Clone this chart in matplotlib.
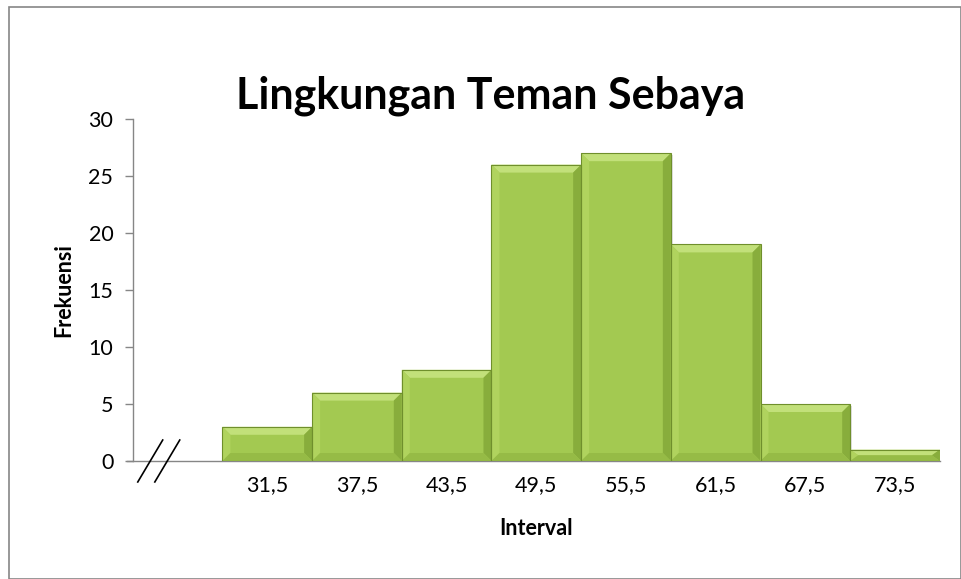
import numpy as np
import matplotlib
matplotlib.use("Agg")
import matplotlib.pyplot as plt
from matplotlib.patches import Rectangle, Polygon
from matplotlib.lines import Line2D

# --- data ---
intervals = ["31,5", "37,5", "43,5", "49,5", "55,5", "61,5", "67,5", "73,5"]
frekuensi = [3, 6, 8, 26, 27, 19, 5, 1]
y_ticks = [0, 5, 10, 15, 20, 25, 30]

plt.rcParams['font.family'] = ['Lato', 'DejaVu Sans']

fig = plt.figure(figsize=(9.62, 5.79), dpi=100)
ax = fig.add_axes([0.138, 0.2038, 0.839, 0.5907])

# one empty slot before the first bar (axis break goes there)
xpos = np.arange(1, len(intervals) + 1)
ax.set_xlim(-0.5, len(intervals) + 0.5)
ax.set_ylim(0, 30)

base = '#a3c951'
light = '#c2e07a'
dark = '#6f8f2c'
mid_dark = '#88ad3c'

# bevel size in data units (about 8 px)
bx = 8 / (0.839 * 962 / 9.0)
by_full = 8 / (0.5907 * 579 / 30.0)

for x, h in zip(xpos, frekuensi):
    l, r = x - 0.5, x + 0.5
    by = min(by_full, h / 2.0)
    # soft shadow
    ax.add_patch(Rectangle((l + 0.02, -0.15), 1.0, h, facecolor='#000000',
                           alpha=0.12, lw=0, zorder=1))
    ax.add_patch(Rectangle((l, 0), 1.0, h, facecolor=base, lw=0, zorder=2))
    # top bevel (light)
    ax.add_patch(Polygon([(l, h), (r, h), (r - bx, h - by), (l + bx, h - by)],
                         closed=True, facecolor=light, lw=0, zorder=3))
    # left bevel
    ax.add_patch(Polygon([(l, h), (l + bx, h - by), (l + bx, by), (l, 0)],
                         closed=True, facecolor='#b0d35e', lw=0, zorder=3))
    # right bevel (dark)
    ax.add_patch(Polygon([(r, h), (r - bx, h - by), (r - bx, by), (r, 0)],
                         closed=True, facecolor=mid_dark, lw=0, zorder=3))
    # bottom bevel
    ax.add_patch(Polygon([(l, 0), (l + bx, by), (r - bx, by), (r, 0)],
                         closed=True, facecolor='#96bb46', lw=0, zorder=3))
    ax.add_patch(Rectangle((l, 0), 1.0, h, facecolor='none', edgecolor=dark,
                           lw=0.8, zorder=4))

ax.set_xticks(xpos)
ax.set_xticklabels(intervals, fontsize=15.5)
ax.tick_params(axis='x', length=0, pad=10)
ax.set_yticks(y_ticks)
ax.tick_params(axis='y', labelsize=15.5, length=6, color='#868686', width=1, pad=8)

for side in ['top', 'right']:
    ax.spines[side].set_visible(False)
for side in ['left', 'bottom']:
    ax.spines[side].set_color('#868686')
    ax.spines[side].set_linewidth(1)
# bottom axis sticks out to the left like the tick marks
ax.spines['bottom'].set_bounds(-0.5 - 6 / (0.839 * 962 / 9.0), len(intervals) + 0.5)
ax.spines['bottom'].set_clip_on(False)

ax.set_ylabel('Frekuensi', fontsize=15.5, fontweight='bold', labelpad=10)
ax.set_xlabel('Interval', fontsize=15.5, fontweight='bold', labelpad=17)
fig.text(491 / 962, 1 - 96 / 579, 'Lingkungan Teman Sebaya', fontsize=31,
         fontweight='bold', ha='center', va='center')

# axis break marks "//"
for dx in (0.0, 0.19):
    ax.add_line(Line2D([-0.444 + dx, -0.166 + dx], [-1.84, 1.84], color='black',
                       lw=1.2, clip_on=False, zorder=5))

# outer chart border
fig.add_artist(Rectangle((9 / 962, 0.0), 952 / 962, 1 - 7 / 579,
                         transform=fig.transFigure, facecolor='none',
                         edgecolor='#868686', lw=1.2))

fig.savefig('out.png', dpi=100)
